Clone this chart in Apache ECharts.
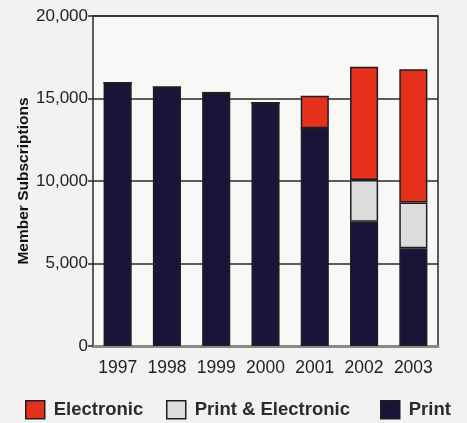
<!DOCTYPE html>
<html>
<head>
<meta charset="utf-8">
<script src="https://cdn.jsdelivr.net/npm/echarts@6/dist/echarts.min.js"></script>
<style>
html,body{margin:0;padding:0;background:#f3f2f0;}
#c{width:467px;height:423px;}
</style>
</head>
<body>
<div id="c"></div>
<script>
const years = ['1997','1998','1999','2000','2001','2002','2003'];
const printOnly = [15950, 15680, 15300, 14750, 13200, 7530, 5920];
const printElectronic = [0, 0, 0, 0, 0, 2530, 2770];
const electronic = [0, 0, 100, 0, 1970, 6870, 8080];
const yTicks = [0, 5000, 10000, 15000, 20000];
const legendNames = ['Electronic', 'Print & Electronic', 'Print'];
const legendLeft = [20, 161, 375];

const chart = echarts.init(document.getElementById('c'));
const border = {borderColor: '#1e1e22', borderWidth: 1.5};
const legends = legendNames.map((n, i) => ({
  left: legendLeft[i], top: 395, itemWidth: 19, itemHeight: 18, icon: 'rect',
  data: [n],
  itemStyle: {borderColor: '#1e1e22', borderWidth: 1.5},
  textStyle: {fontSize: 18.5, fontWeight: 'bold', color: '#2b2b2b', padding: [0, 0, 0, 4]}
}));
chart.setOption({
  backgroundColor: '#f3f2f0',
  animation: false,
  textStyle: {fontFamily: 'Liberation Sans, Arial, sans-serif'},
  grid: {left: 93, right: 29, top: 16, bottom: 77, show: true,
         backgroundColor: '#f8f8f7', borderColor: '#2a2a2a', borderWidth: 1.5},
  legend: legends,
  xAxis: {
    type: 'category', data: years,
    axisLine: {show: true, lineStyle: {color: '#8a8a8a', width: 3}},
    axisTick: {show: false},
    axisLabel: {fontSize: 17.5, color: '#222', margin: 13, interval: 0}
  },
  yAxis: {
    type: 'value', min: yTicks[0], max: yTicks[yTicks.length - 1], interval: 5000,
    name: 'Member Subscriptions', nameLocation: 'middle', nameGap: 61,
    nameMoveOverlap: false,
    nameTextStyle: {fontSize: 15.5, fontWeight: 'bold', color: '#111'},
    axisLine: {show: false},
    axisTick: {show: true, length: 5, lineStyle: {color: '#2a2a2a', width: 1.5}},
    splitLine: {lineStyle: {color: '#2a2a2a', width: 1.5}},
    axisLabel: {fontSize: 17, color: '#222', margin: 5,
      formatter: v => v.toLocaleString('en-US')}
  },
  series: [
    {name: 'Print', type: 'bar', stack: 's', data: printOnly, barWidth: '57%',
     itemStyle: Object.assign({color: '#1b1438'}, border)},
    {name: 'Print & Electronic', type: 'bar', stack: 's', data: printElectronic,
     itemStyle: Object.assign({color: '#dcdcdc'}, border)},
    {name: 'Electronic', type: 'bar', stack: 's', data: electronic,
     itemStyle: Object.assign({color: '#e5301c'}, border)}
  ]
});
</script>
</body>
</html>
